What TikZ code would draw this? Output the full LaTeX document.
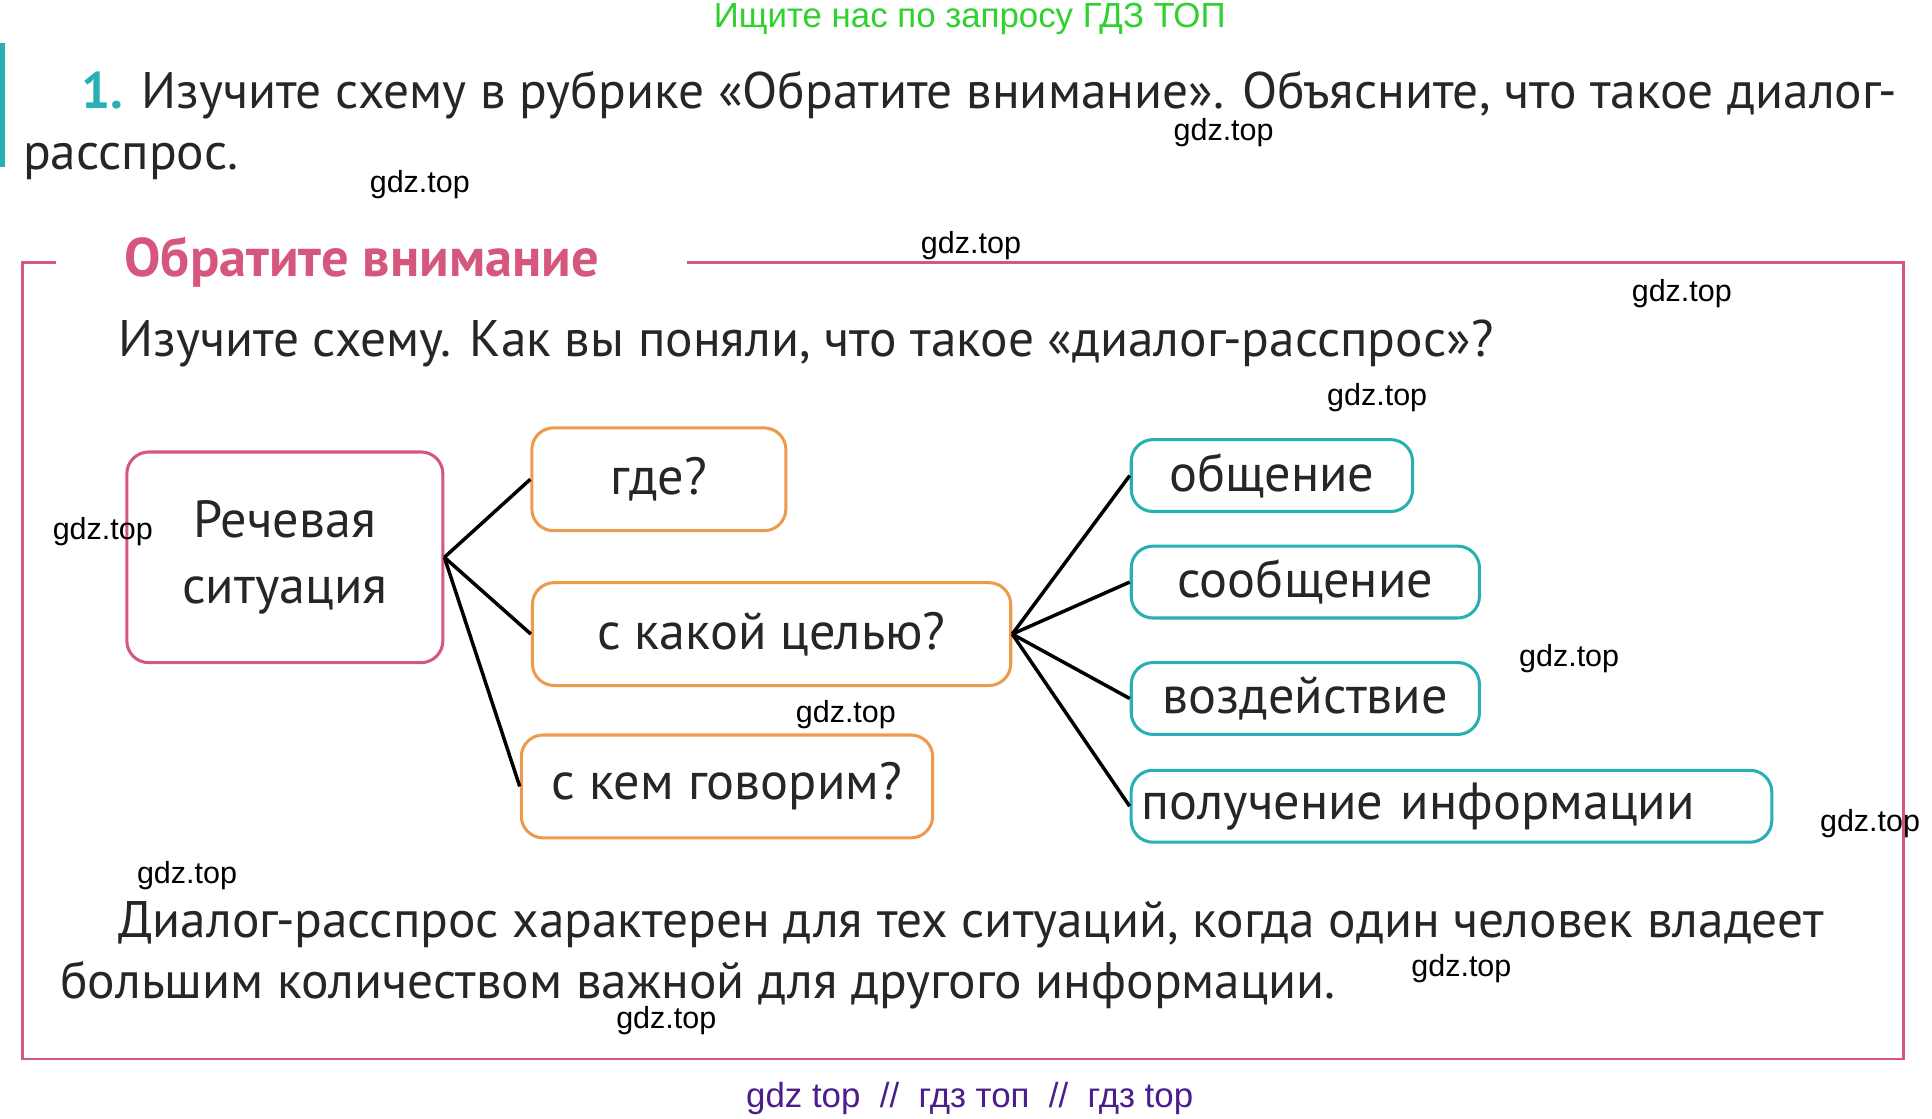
\documentclass[tikz,border=0pt]{standalone}
\usepackage{fontspec}
\setmainfont{PT Sans}
\newfontfamily\wmfont{Liberation Sans}
\definecolor{pinkc}{HTML}{D6577E}
\definecolor{orangec}{HTML}{EE9A4D}
\definecolor{tealc}{HTML}{27AFB3}
\definecolor{wmgreen}{HTML}{2FD12F}
\definecolor{wmviolet}{HTML}{4B1E8C}
\begin{document}
\begin{tikzpicture}[x=0.01cm, y=-0.01cm,
  box/.style={draw, rounded corners=5pt, line width=0.7pt, font=\fontsize{12}{13}\selectfont, inner sep=0pt},
  sitbox/.style={box, pinkc, text=black!85, align=center},
  qbox/.style={box, orangec, text=black!85},
  tbox/.style={box, tealc, text=black!85},
  txt/.style={anchor=base west, inner sep=0pt, font=\fontsize{11.8}{13}\selectfont, text=black!85},
  wm/.style={font=\wmfont\fontsize{7}{8}\selectfont}]
  \useasboundingbox (0,0) rectangle (1560,903);

  \node[wmgreen, font=\wmfont\fontsize{8}{9}\selectfont] (top) at (783,15) {Ищите нас по запросу ГДЗ ТОП};
  \draw[tealc, line width=1pt] (2,35) -- (2,135);
  \node[txt] (task1) at (65,88)
    {\textcolor{tealc}{\textbf{1.}} Изучите схему в рубрике «Обратите внимание». Объясните, что такое диалог-};
  \node[txt] (task2) at (18,137) {расспрос.};

  % frame
  \draw[pinkc, line width=0.6pt] (45,212) -- (18,212) -- (18,855) -- (1537,855) -- (1537,212) -- (555,212);
  \node[anchor=west, pinkc, font=\bfseries\fontsize{12.5}{14}\selectfont] (title) at (88,212) {Обратите внимание};
  \node[txt] (ask) at (95,288)
    {Изучите схему. Как вы поняли, что такое «диалог-расспрос»?};

  % scheme
  \node[sitbox, minimum width=2.55cm, minimum height=1.7cm] (sit) at (230,450) {Речевая\\[2pt]ситуация};
  \node[qbox, minimum width=2.05cm, minimum height=0.83cm] (where) at (532,387) {где?};
  \node[qbox, minimum width=3.86cm, minimum height=0.83cm] (goal) at (623,512) {с какой целью?};
  \node[qbox, minimum width=3.32cm, minimum height=0.83cm] (whom) at (587,635) {с кем говорим?};
  \node[tbox, minimum width=2.27cm, minimum height=0.58cm] (g1) at (1027,384) {общение};
  \node[tbox, minimum width=2.81cm, minimum height=0.58cm] (g2) at (1054,470) {сообщение};
  \node[tbox, minimum width=2.81cm, minimum height=0.58cm] (g3) at (1054,564) {воздействие};
  \node[tbox, minimum width=5.17cm, minimum height=0.58cm, text width=5.0cm] (g4) at (1172,651) {получение информации};

  \foreach \t in {where, goal} \draw[line width=0.8pt] (sit.east) -- (\t.west);
  \draw[line width=0.8pt] (sit.east) -- (whom.west);
  \foreach \t in {g1, g2, g3, g4} \draw[line width=0.8pt] (goal.east) -- (\t.west);

  \node[txt] (end1) at (95,757)
    {Диалог-расспрос характерен для тех ситуаций, когда один человек владеет};
  \node[txt] (end2) at (48,806)
    {большим количеством важной для другого информации.};

  % watermarks
  \node[wm] (w1) at (988,107) {gdz.top};
  \node[wm] (w2) at (339,149) {gdz.top};
  \node[wm] (w3) at (784,198) {gdz.top};
  \node[wm] (w4) at (1358,237) {gdz.top};
  \node[wm] (w5) at (1112,321) {gdz.top};
  \node[wm] (w6) at (83,429) {gdz.top};
  \node[wm] (w7) at (1267,532) {gdz.top};
  \node[wm] (w8) at (683,577) {gdz.top};
  \node[wm] (w9) at (1510,665) {gdz.top};
  \node[wm] (w10) at (151,707) {gdz.top};
  \node[wm] (w11) at (1180,782) {gdz.top};
  \node[wm] (w12) at (538,824) {gdz.top};
  \node[wmviolet, font=\wmfont\fontsize{8}{9}\selectfont] (bot) at (783,887) {gdz top \ // \ гдз топ \ // \ гдз top};
\end{tikzpicture}
\end{document}
